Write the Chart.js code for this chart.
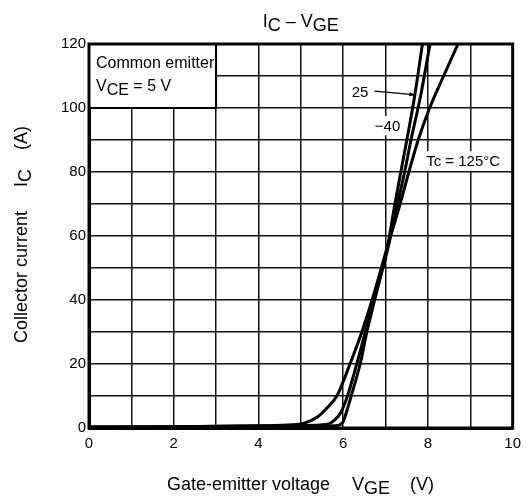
<!DOCTYPE html>
<html>
<head>
<meta charset="utf-8">
<script src="https://cdn.jsdelivr.net/npm/chart.js@4/dist/chart.umd.min.js"></script>
<style>
  body { margin: 0; background: #fff; }
  #wrap { width: 528px; height: 502px; }
</style>
</head>
<body>
<div id="wrap"><canvas id="chart" width="528" height="502"></canvas></div>
<script>
// IC - VGE curves
const vge25 = [0, 2, 4, 5, 5.6, 5.8, 5.95, 6.1, 6.32, 6.52, 6.78, 7.05, 7.22, 7.36, 7.46, 7.69, 7.87];
const ic25  = [0.3, 0.4, 0.6, 0.8, 1.1, 2.5, 5, 10, 20, 30, 43, 57, 70, 80, 87, 104, 120];

const vgeM40 = [0, 2, 4, 5, 5.8, 5.92, 6.0, 6.1, 6.2, 6.4, 6.56, 6.8, 7.07, 7.28, 7.45, 7.6, 7.83, 8.05];
const icM40  = [0.2, 0.3, 0.4, 0.5, 0.7, 1.0, 2.0, 6, 10.5, 20, 30, 43, 57, 70, 80, 90, 104, 120];

const vge125 = [0, 2, 4, 4.8, 5.1, 5.4, 5.6, 5.85, 6.16, 6.44, 6.75, 7.05, 7.3, 7.55, 7.77, 8.04, 8.37, 8.71];
const ic125  = [0.3, 0.4, 0.7, 1.0, 1.6, 3.5, 6, 10, 20, 30, 43, 57, 68, 80, 90, 100, 110, 120];

const xTicks = [0, 2, 4, 6, 8, 10];
const yTicks = [0, 20, 40, 60, 80, 100, 120];

const FONT = '"Liberation Sans", Arial, sans-serif';

function pts(xs, ys) {
  return xs.map((x, i) => ({ x: x, y: ys[i] }));
}

function curve(label, xs, ys) {
  return {
    label: label,
    data: pts(xs, ys),
    borderColor: '#000',
    borderWidth: 3,
    pointRadius: 0,
    fill: false,
    cubicInterpolationMode: 'monotone'
  };
}

// draw text pieces, some of them as subscripts
function rich(ctx, x, y, parts, size) {
  ctx.font = size + 'px ' + FONT;
  let cx = x;
  parts.forEach(p => {
    const dy = p.sub ? 4 : 0;
    ctx.fillText(p.t, cx, y + dy);
    cx += ctx.measureText(p.t).width;
  });
}

function labelBox(ctx, x0, y0, x1, y1) {
  ctx.fillStyle = '#fff';
  ctx.fillRect(x0, y0, x1 - x0, y1 - y0);
  ctx.fillStyle = '#000';
}

const decor = {
  id: 'decor',
  beforeDatasetsDraw(chart) {
    const ctx = chart.ctx;
    const xs = chart.scales.x, ys = chart.scales.y;
    ctx.save();

    // "Common emitter" box
    const bx0 = xs.getPixelForValue(0), bx1 = xs.getPixelForValue(3);
    const by0 = ys.getPixelForValue(120), by1 = ys.getPixelForValue(100);
    labelBox(ctx, bx0 + 1, by0 + 1, bx1 - 1, by1 - 1);
    ctx.strokeStyle = '#000';
    ctx.lineWidth = 2;
    ctx.strokeRect(bx0, by0, bx1 - bx0, by1 - by0);
    ctx.fillStyle = '#000';
    ctx.textBaseline = 'alphabetic';
    ctx.textAlign = 'left';
    rich(ctx, bx0 + 7, by0 + 24, [{ t: 'Common emitter' }], 16);
    rich(ctx, bx0 + 7, by0 + 47, [{ t: 'V' }, { t: 'CE', sub: true }, { t: ' = 5 V' }], 16);

    // Tc label
    const tx0 = xs.getPixelForValue(7.77), tx1 = xs.getPixelForValue(9.93);
    const ty0 = ys.getPixelForValue(86.5), ty1 = ys.getPixelForValue(80.4);
    labelBox(ctx, tx0, ty0, tx1, ty1);
    rich(ctx, tx0 + 8, ty1 - 5, [{ t: 'Tc = 125°C' }], 15);

    // -40 label
    const mx0 = xs.getPixelForValue(6.7), mx1 = xs.getPixelForValue(7.4);
    const my0 = ys.getPixelForValue(97.5), my1 = ys.getPixelForValue(91.5);
    labelBox(ctx, mx0, my0, mx1, my1);
    rich(ctx, mx0 + 2, my1 - 4, [{ t: '\u221240' }], 15);

    // 25 label with arrow
    rich(ctx, xs.getPixelForValue(6.2), ys.getPixelForValue(105.3) + 6, [{ t: '25' }], 15);
    const ax0 = xs.getPixelForValue(6.74), ay0 = ys.getPixelForValue(105.3);
    const ax1 = xs.getPixelForValue(7.72), ay1 = ys.getPixelForValue(104.1);
    ctx.lineWidth = 1.2;
    ctx.beginPath();
    ctx.moveTo(ax0, ay0);
    ctx.lineTo(ax1, ay1);
    ctx.stroke();
    const ang = Math.atan2(ay1 - ay0, ax1 - ax0);
    ctx.beginPath();
    ctx.moveTo(ax1, ay1);
    ctx.lineTo(ax1 - 7 * Math.cos(ang - 0.3), ay1 - 7 * Math.sin(ang - 0.3));
    ctx.lineTo(ax1 - 7 * Math.cos(ang + 0.3), ay1 - 7 * Math.sin(ang + 0.3));
    ctx.closePath();
    ctx.fill();

    ctx.restore();
  },
  afterDraw(chart) {
    const ctx = chart.ctx;
    const a = chart.chartArea;
    ctx.save();
    // heavy frame
    ctx.strokeStyle = '#000';
    ctx.lineWidth = 3;
    ctx.strokeRect(a.left, a.top, a.right - a.left, a.bottom - a.top);

    ctx.fillStyle = '#000';
    ctx.textAlign = 'left';
    ctx.textBaseline = 'alphabetic';

    // title
    ctx.font = '18px ' + FONT;
    const titleParts = [{ t: 'I' }, { t: 'C', sub: true }, { t: ' \u2013 V' }, { t: 'GE', sub: true }];
    let w = 0;
    titleParts.forEach(p => { w += ctx.measureText(p.t).width; });
    rich(ctx, (a.left + a.right) / 2 - w / 2, 27, titleParts, 18);

    // x axis title
    rich(ctx, 167, 490, [{ t: 'Gate-emitter voltage' }], 18);
    rich(ctx, 352, 490, [{ t: 'V' }, { t: 'GE', sub: true }], 18);
    rich(ctx, 410, 490, [{ t: '(V)' }], 18);

    // y axis title
    ctx.translate(27, 343);
    ctx.rotate(-Math.PI / 2);
    rich(ctx, 0, 0, [{ t: 'Collector current' }], 18);
    rich(ctx, 156, 0, [{ t: 'I' }, { t: 'C', sub: true }], 18);
    rich(ctx, 193, 0, [{ t: '(A)' }], 18);
    ctx.restore();
  }
};

new Chart(document.getElementById('chart'), {
  type: 'line',
  data: {
    datasets: [
      curve('25', vge25, ic25),
      curve('-40', vgeM40, icM40),
      curve('125', vge125, ic125)
    ]
  },
  options: {
    responsive: false,
    animation: false,
    layout: { padding: { top: 44, right: 13, left: 0, bottom: 0 } },
    plugins: {
      legend: { display: false },
      tooltip: { enabled: false },
      title: { display: false }
    },
    scales: {
      x: {
        type: 'linear',
        min: 0,
        max: 10,
        afterFit: s => { s.height = 74; },
        ticks: {
          stepSize: 1,
          color: '#000',
          padding: 7,
          maxRotation: 0,
          font: { family: FONT, size: 15 },
          callback: v => xTicks.includes(v) ? String(v) : ''
        },
        grid: { color: '#111', lineWidth: 1.5, drawTicks: false },
        border: { color: '#000', width: 3 }
      },
      y: {
        min: 0,
        max: 120,
        afterFit: s => { s.width = 89; },
        ticks: {
          stepSize: 10,
          color: '#000',
          padding: 3,
          font: { family: FONT, size: 15 },
          callback: v => yTicks.includes(v) ? String(v) : ''
        },
        grid: { color: '#111', lineWidth: 1.5, drawTicks: false },
        border: { color: '#000', width: 3 }
      }
    }
  },
  plugins: [decor]
});
</script>
</body>
</html>
